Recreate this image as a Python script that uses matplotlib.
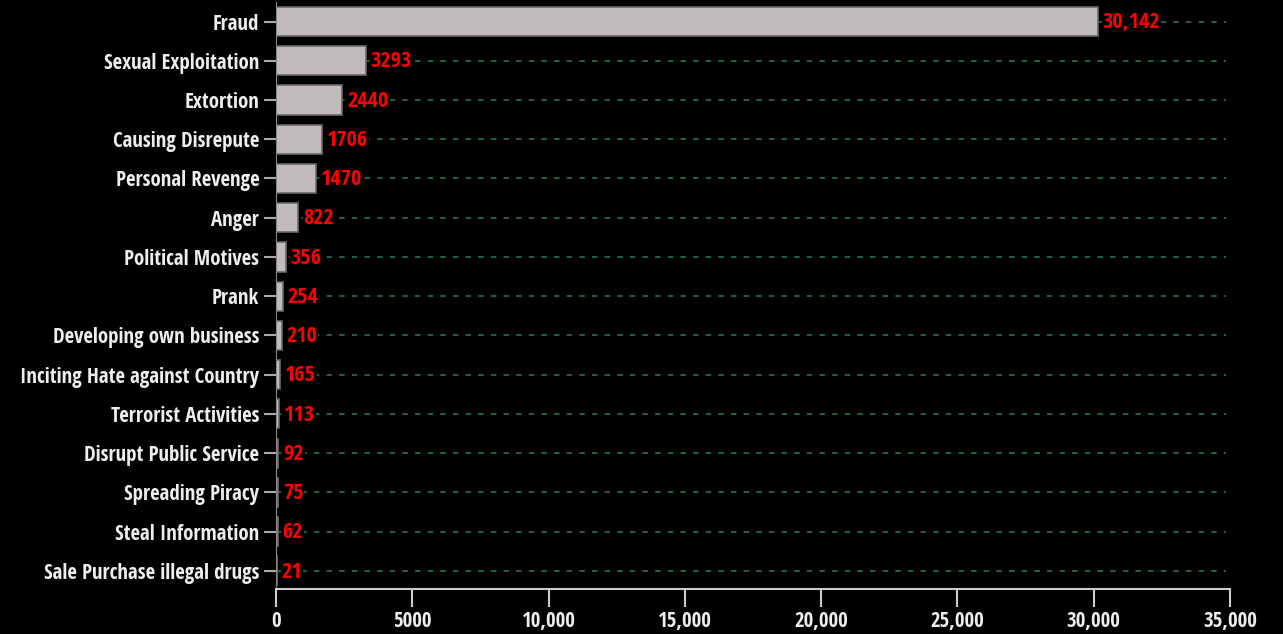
import matplotlib.pyplot as plt
from matplotlib.ticker import FuncFormatter

plt.rcParams['font.family'] = ['Open Sans Condensed', 'DejaVu Sans']
plt.rcParams['font.weight'] = 'normal'

# motives for cyber crime, number of cases
motives = [
    "Fraud", "Sexual Exploitation", "Extortion", "Causing Disrepute",
    "Personal Revenge", "Anger", "Political Motives", "Prank",
    "Developing own business", "Inciting Hate against Country",
    "Terrorist Activities", "Disrupt Public Service", "Spreading Piracy",
    "Steal Information", "Sale Purchase illegal drugs",
]
cases = [30142, 3293, 2440, 1706, 1470, 822, 356, 254, 210, 165, 113, 92, 75, 62, 21]
x_ticks = [0, 5000, 10000, 15000, 20000, 25000, 30000, 35000]

fig = plt.figure(figsize=(12.83, 6.34), dpi=100, facecolor="black")
ax = fig.add_axes([0.2151, 0.071, 0.7436, 0.926], facecolor="black")

pos = list(range(len(motives)))

# dashed guide lines behind bars
ax.hlines(pos, 0, 34850, colors="#1f6e45", linestyles=(0, (3, 4)), linewidth=1.3, zorder=0)

ax.barh(pos, cases, height=0.74, color="#c2bbbb", edgecolor="#6e6868", linewidth=1.2, zorder=2)

for p, v in zip(pos, cases):
    label = f"{v:,}" if v >= 10000 else str(v)
    ax.text(v + 180, p + 0.03, label, color="#ff0000", fontsize=16, va="center", ha="left",
            zorder=3, bbox=dict(facecolor="black", edgecolor="none", pad=0.5))

ax.set_xlim(0, 35000)
ax.set_ylim(14.46, -0.5)
ax.set_yticks(pos)
ax.set_yticklabels(motives)
ax.set_xticks(x_ticks)
ax.xaxis.set_major_formatter(FuncFormatter(lambda v, _: f"{int(v):,}" if v >= 10000 else str(int(v))))

for s in ["top", "right"]:
    ax.spines[s].set_visible(False)
ax.spines["left"].set_color("#888888")
ax.spines["bottom"].set_color("#cccccc")
ax.spines["bottom"].set_linewidth(1.5)

ax.tick_params(axis="y", colors="#aaaaaa", labelsize=15, length=9, width=1.5, pad=3)
ax.tick_params(axis="x", colors="#cccccc", labelsize=15, length=13, width=1.5, pad=3)
for t in ax.get_yticklabels() + ax.get_xticklabels():
    t.set_color("#eeeeee")

fig.savefig("out.png", dpi=100, facecolor="black")
